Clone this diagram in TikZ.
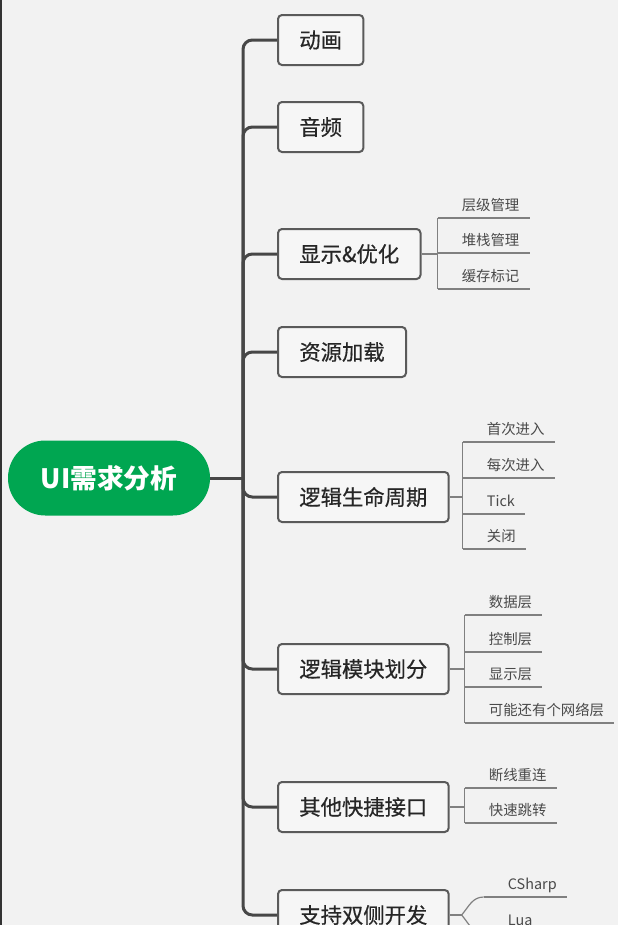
\documentclass[tikz,border=0pt]{standalone}
\usepackage{fontspec}
\setmainfont{Noto Sans CJK SC}
\newfontfamily\topicfont[FakeBold=0.5]{Noto Sans CJK SC}
\usetikzlibrary{calc}

\definecolor{bgGray}{HTML}{F2F2F2}
\definecolor{trunkGray}{HTML}{474747}
\definecolor{boxGray}{HTML}{5A5A5A}
\definecolor{twigGray}{HTML}{808080}
\definecolor{leafText}{HTML}{4A4A4A}
\definecolor{rootGreen}{HTML}{00A651}

\begin{document}
\begin{tikzpicture}[
        x=0.75pt, y=-0.75pt,
        root/.style={rectangle, rounded corners=28pt, fill=rootGreen, text=white, minimum width=151.5pt, minimum height=56.25pt, inner sep=0, font=\fontsize{20}{24}\selectfont\bfseries},
        topic/.style={rectangle, draw=boxGray, line width=1.5pt, fill=white!30!bgGray, rounded corners=3pt, minimum height=37.5pt, inner xsep=16pt, anchor=west, text=black!85, font=\topicfont\fontsize{16}{19}\selectfont},
        leaf/.style={anchor=south west, inner xsep=0pt, inner ysep=5.5pt, text depth=0pt, text=leafText, font=\fontsize{10.8}{12}\selectfont, execute at begin node={\hspace*{18pt}}, execute at end node={\hspace*{7.5pt}}},
        trunk/.style={draw=trunkGray, line width=2.25pt, rounded corners=7pt},
        twig/.style={draw=twigGray, line width=0.9pt}
    ]

        % 页面与背景
        \useasboundingbox (0,0) rectangle (618,925);
        \fill[bgGray] (0,0) rectangle (618,925);
        \fill[black!80] (0,0) rectangle (2,925);

        % 中心主题
        \node[root] (root) at (109,478) {UI需求分析};
        \coordinate (hub) at (243,478);

        % 分支主题
        \foreach \name/\y/\txt in {anim/40/动画, audio/127/音频, show/254/显示\&优化, res/352/资源加载,
                                   life/497/逻辑生命周期, mod/669/逻辑模块划分, api/807/其他快捷接口, dual/915/支持双侧开发} {
            \node[topic] (\name) at (277,\y) {\txt};
        }

        % Root → topics
        \draw[trunk] (root.east) -- (hub);
        \foreach \name in {anim, audio, show, res, life, mod, api, dual} {
            \draw[trunk] (hub) |- (\name.west);
        }

        % 显示&优化
        \coordinate (show-f) at ($(show.east)+(16,0)$);
        \foreach \i/\y/\txt in {1/218/层级管理, 2/253/堆栈管理, 3/289/缓存标记} {
            \node[leaf] (show-\i) at (show-f |- 0,\y) {\txt};
            \draw[twig] (show-\i.south west) -- (show-\i.south east);
        }
        \draw[twig] (show.east) -- (show-f);
        \draw[twig] (show-1.south west) -- (show-3.south west);

        % 逻辑生命周期
        \coordinate (life-f) at ($(life.east)+(13,0)$);
        \foreach \i/\y/\txt in {1/442/首次进入, 2/478/每次进入, 3/514/Tick, 4/549/关闭} {
            \node[leaf] (life-\i) at (life-f |- 0,\y) {\txt};
            \draw[twig] (life-\i.south west) -- (life-\i.south east);
        }
        \draw[twig] (life.east) -- (life-f);
        \draw[twig] (life-1.south west) -- (life-4.south west);

        % 逻辑模块划分
        \coordinate (mod-f) at ($(mod.east)+(15,0)$);
        \foreach \i/\y/\txt in {1/615/数据层, 2/652/控制层, 3/687/显示层, 4/723/可能还有个网络层} {
            \node[leaf] (mod-\i) at (mod-f |- 0,\y) {\txt};
            \draw[twig] (mod-\i.south west) -- (mod-\i.south east);
        }
        \draw[twig] (mod.east) -- (mod-f);
        \draw[twig] (mod-1.south west) -- (mod-4.south west);

        % 其他快捷接口
        \coordinate (api-f) at ($(api.east)+(15,0)$);
        \foreach \i/\y/\txt in {1/788/断线重连, 2/823/快速跳转} {
            \node[leaf] (api-\i) at (api-f |- 0,\y) {\txt};
            \draw[twig] (api-\i.south west) -- (api-\i.south east);
        }
        \draw[twig] (api.east) -- (api-f);
        \draw[twig] (api-1.south west) -- (api-2.south west);

        % 支持双侧开发
        \coordinate (dual-f) at ($(dual.east)+(12,0)$);
        \node[leaf] (dual-1) at ($(dual-f)+(22,-18)$) {CSharp};
        \node[leaf] (dual-2) at ($(dual-f)+(22,18)$) {Lua};
        \foreach \i in {1,2} {
            \draw[twig] (dual-\i.south west) -- (dual-\i.south east);
        }
        \draw[twig] (dual.east) -- (dual-f);
        \draw[twig] (dual-f) to[out=50, in=180] (dual-1.south west);
        \draw[twig] (dual-f) to[out=-50, in=180] (dual-2.south west);

    \end{tikzpicture}
\end{document}
